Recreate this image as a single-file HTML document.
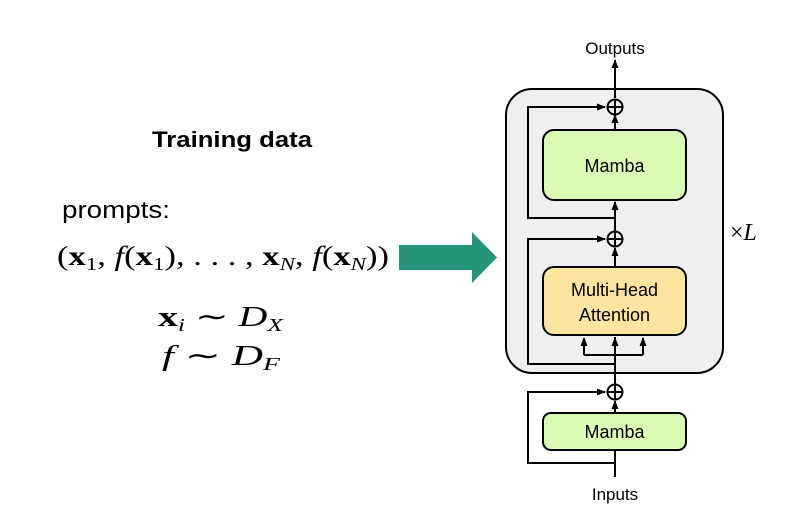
<!DOCTYPE html>
<html><head><meta charset="utf-8"><style>
html,body{margin:0;padding:0;background:#fff;width:793px;height:523px;overflow:hidden}
</style></head><body>
<svg width="793" height="523" viewBox="0 0 793 523" xmlns="http://www.w3.org/2000/svg">
<defs>
<marker id="ah" markerWidth="9" markerHeight="9" refX="8" refY="4.5" orient="auto" markerUnits="userSpaceOnUse">
<path d="M0,1 L9,4.5 L0,8 Z" fill="#000"/></marker>
</defs>
<text x="232" y="147" font-family="Liberation Sans, sans-serif" font-weight="bold" font-size="22" text-anchor="middle" textLength="160" lengthAdjust="spacingAndGlyphs">Training data</text>
<text x="62" y="218" font-family="Liberation Sans, sans-serif" font-size="24" textLength="108" lengthAdjust="spacingAndGlyphs">prompts:</text>
<text x="57" y="265" font-family="Liberation Serif, serif" font-size="27" textLength="332" lengthAdjust="spacingAndGlyphs">(<tspan font-weight="bold">x</tspan><tspan font-size="18" dy="5">1</tspan><tspan dy="-5">, </tspan><tspan font-style="italic">f</tspan>(<tspan font-weight="bold">x</tspan><tspan font-size="18" dy="5">1</tspan><tspan dy="-5">), . . . , </tspan><tspan font-weight="bold">x</tspan><tspan font-size="18" font-style="italic" dy="5">N</tspan><tspan dy="-5">, </tspan><tspan font-style="italic">f</tspan>(<tspan font-weight="bold">x</tspan><tspan font-size="18" font-style="italic" dy="5">N</tspan><tspan dy="-5">))</tspan></text>
<text x="158" y="326" font-family="Liberation Serif, serif" font-size="28" textLength="125" lengthAdjust="spacingAndGlyphs"><tspan font-weight="bold">x</tspan><tspan font-size="18" font-style="italic" dy="5">i</tspan><tspan dy="-5"> ∼ </tspan><tspan font-style="italic">D</tspan><tspan font-size="18" font-style="italic" dy="5">X</tspan></text>
<text x="162" y="365" font-family="Liberation Serif, serif" font-size="28" textLength="118" lengthAdjust="spacingAndGlyphs"><tspan font-style="italic">f</tspan><tspan> ∼ </tspan><tspan font-style="italic">D</tspan><tspan font-size="18" font-style="italic" dy="5">F</tspan></text>
<path d="M399,245 L472,245 L472,232 L497,257.5 L472,283 L472,270 L399,270 Z" fill="#269478"/>
<rect x="506" y="89" width="217" height="284" rx="26" fill="#efefef" stroke="#000" stroke-width="2"/>
<text x="730" y="240" font-family="Liberation Serif, serif" font-size="24"><tspan>×</tspan><tspan font-style="italic">L</tspan></text>
<g stroke="#000" stroke-width="2" fill="none">
<line x1="615" y1="477" x2="615" y2="451"/>
<line x1="615" y1="413" x2="615" y2="401" marker-end="url(#ah)"/>
<line x1="615" y1="384" x2="615" y2="337" />
<line x1="615" y1="267" x2="615" y2="248" marker-end="url(#ah)"/>
<line x1="615" y1="231" x2="615" y2="202" marker-end="url(#ah)"/>
<line x1="615" y1="130" x2="615" y2="115" marker-end="url(#ah)"/>
<line x1="615" y1="98" x2="615" y2="60" marker-end="url(#ah)"/>
<polyline points="615,463 528,463 528,392 605,392" marker-end="url(#ah)"/>
<polyline points="615,364 528,364 528,239 605,239" marker-end="url(#ah)"/>
<polyline points="615,218 528,218 528,107 605,107" marker-end="url(#ah)"/>
<polyline points="584,355 643,355"/>
<line x1="584" y1="355" x2="584" y2="338" marker-end="url(#ah)"/>
<line x1="615" y1="355" x2="615" y2="338" marker-end="url(#ah)"/>
<line x1="643" y1="355" x2="643" y2="338" marker-end="url(#ah)"/>
<circle cx="615" cy="107" r="7.5" fill="#efefef"/><line x1="607.5" y1="107" x2="622.5" y2="107"/><line x1="615" y1="99.5" x2="615" y2="114.5"/>
<circle cx="615" cy="239" r="7.5" fill="#efefef"/><line x1="607.5" y1="239" x2="622.5" y2="239"/><line x1="615" y1="231.5" x2="615" y2="246.5"/>
<circle cx="615" cy="392" r="7.5" fill="#fff"/><line x1="607.5" y1="392" x2="622.5" y2="392"/><line x1="615" y1="384.5" x2="615" y2="399.5"/>
</g>
<rect x="543" y="130" width="143" height="70" rx="11" fill="#d9fbb3" stroke="#000" stroke-width="2"/>
<text x="614.5" y="172" font-family="Liberation Sans, sans-serif" font-size="18" text-anchor="middle">Mamba</text>
<rect x="543" y="267" width="143" height="68" rx="11" fill="#fde59f" stroke="#000" stroke-width="2"/>
<text x="614.5" y="296" font-family="Liberation Sans, sans-serif" font-size="18" text-anchor="middle">Multi-Head</text>
<text x="614.5" y="321" font-family="Liberation Sans, sans-serif" font-size="18" text-anchor="middle">Attention</text>
<rect x="543" y="413" width="143" height="37" rx="8" fill="#d9fbb3" stroke="#000" stroke-width="2"/>
<text x="614.5" y="438" font-family="Liberation Sans, sans-serif" font-size="18" text-anchor="middle">Mamba</text>
<text x="615" y="54" font-family="Liberation Sans, sans-serif" font-size="17" text-anchor="middle">Outputs</text>
<text x="615" y="500" font-family="Liberation Sans, sans-serif" font-size="17" text-anchor="middle">Inputs</text>
</svg>
</body></html>
